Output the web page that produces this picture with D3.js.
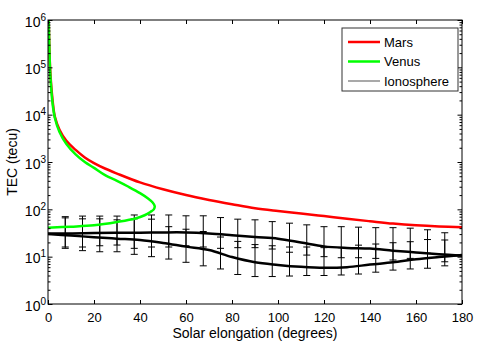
<!DOCTYPE html>
<html>
<head>
<meta charset="utf-8">
<script src="https://cdn.jsdelivr.net/npm/d3@7"></script>
<style>
body { margin: 0; background: #fff; }
text { font-family: "Liberation Sans", Arial, Helvetica, sans-serif; }
</style>
</head>
<body>
<script>
// tick labels
var xTicks = [0, 20, 40, 60, 80, 100, 120, 140, 160, 180];
var yTicks = [1, 10, 100, 1000, 10000, 100000, 1000000];
var yExps = ["0", "1", "2", "3", "4", "5", "6"];

// Mars model curve
var marsElong = [0.3, 0.6, 1, 2, 3, 5, 8, 12, 16, 20, 25, 30, 40, 50, 60, 70, 80, 90, 100, 110, 120, 130, 140, 150, 160, 170, 180];
var marsTec = [1e6, 2.5e5, 8e4, 2e4, 9000, 4800, 2800, 1800, 1250, 950, 720, 570, 370, 265, 200, 158, 128, 105, 92, 82, 72, 63, 56, 50, 46, 43.5, 42];

// Venus model curve (turns back at max elongation)
var venusElong = [0.3, 0.6, 1, 2, 3, 5, 8, 12, 16, 20, 25, 30, 35, 40, 43.5, 45.5, 46.4, 46, 44.5, 42, 38, 30, 20, 10, 0];
var venusTec = [1e6, 2.5e5, 7e4, 1.7e4, 8500, 4300, 2400, 1450, 1000, 750, 520, 400, 300, 220, 170, 140, 117, 100, 88, 75, 64, 54, 46, 43, 41];

// ionosphere curves
var ionoElong = [0, 10, 20, 30, 40, 50, 60, 70, 80, 90, 100, 110, 120, 130, 140, 150, 160, 170, 180];
var ionoUpper = [31, 31, 31.5, 32, 32, 32.5, 32.5, 31, 28.5, 26, 24, 20, 16.5, 15.3, 14.8, 13.4, 12.3, 11.3, 10.5];
var ionoLower = [30, 28, 25.7, 24, 22.5, 19.5, 16.3, 13.8, 9.8, 7.6, 6.7, 6.1, 5.8, 6.0, 6.8, 7.6, 8.8, 9.8, 10.8];

// error bars
var barElong = [7.5, 15, 22.5, 30, 37.5, 45, 52.5, 60, 67.5, 75, 82.5, 90, 97.5, 105, 112.5, 120, 127.5, 135, 142.5, 150, 157.5, 165, 172.5];
var outerHi = [70, 72, 72, 72, 76, 76, 76, 73, 73, 67, 62, 60, 55, 51, 47, 43, 43, 42, 41, 41, 40, 37, 32];
var outerLo = [15, 13.4, 12.7, 12.7, 11.2, 10, 8.9, 7.6, 6.4, 5.5, 4.2, 3.8, 3.8, 3.9, 4.0, 4.0, 4.1, 4.3, 4.7, 5.2, 5.5, 5.7, 6.4];
var innerHi = [66, 63, 63, 60, 63, 62, 43, 38, 34, 26, 21, 18, 17, 16, 16, 15.5, 15.5, 17.5, 18.5, 19.7, 20.7, 23, 22.5];
var innerLo = [16, 16, 17, 17.6, 15, 16, 16, 17, 16, 15, 15.5, 15.5, 14.5, 12.4, 10.8, 10, 9.5, 9.5, 9.2, 8.5, 9.2, 11.8, 7.8];

var legendNames = ["Mars", "Venus", "Ionosphere"];
var legendColors = ["#ff0000", "#00ff00", "#8c8c8c"];

var width = 478;
var height = 344;
var pLeft = 48, pRight = 462, pTop = 20, pBottom = 304;

var svg = d3.select("body").append("svg")
	.attr("width", width)
	.attr("height", height);

var x = d3.scaleLinear().domain([0, 180]).range([pLeft, pRight]);
var y = d3.scaleLog().domain([1, 1e6]).range([pBottom, pTop]);

svg.append("defs").append("clipPath").attr("id", "clip")
	.append("rect")
	.attr("x", pLeft).attr("y", pTop)
	.attr("width", pRight - pLeft).attr("height", pBottom - pTop);

var plot = svg.append("g").attr("clip-path", "url(#clip)");

// error bars
function drawBars(hi, lo) {
	var g = plot.append("g").attr("stroke", "#000").attr("stroke-width", 1);
	barElong.forEach(function(e, i) {
		var cx = x(e);
		g.append("line").attr("x1", cx).attr("x2", cx).attr("y1", y(hi[i])).attr("y2", y(lo[i]));
		g.append("line").attr("x1", cx - 3.5).attr("x2", cx + 3.5).attr("y1", y(hi[i])).attr("y2", y(hi[i]));
		g.append("line").attr("x1", cx - 3.5).attr("x2", cx + 3.5).attr("y1", y(lo[i])).attr("y2", y(lo[i]));
	});
}
drawBars(outerHi, outerLo);
drawBars(innerHi, innerLo);

function curve(xs, ys, color, w) {
	var line = d3.line()
		.x(function(d) { return x(d[0]); })
		.y(function(d) { return y(d[1]); })
		.curve(d3.curveCatmullRom.alpha(0.5));
	plot.append("path")
		.datum(d3.zip(xs, ys))
		.attr("d", line)
		.attr("fill", "none")
		.attr("stroke", color)
		.attr("stroke-width", w)
		.attr("stroke-linejoin", "round");
}

curve(ionoElong, ionoUpper, "#000", 2.5);
curve(ionoElong, ionoLower, "#000", 2.5);
curve(marsElong, marsTec, "#ff0000", 2.5);
curve(venusElong, venusTec, "#00ff00", 2.5);

// axes
var minor = [];
for (var d = 0; d < 6; d++) {
	for (var k = 2; k <= 9; k++) minor.push(k * Math.pow(10, d));
}

function style(g) {
	g.select(".domain").remove();
	g.selectAll("line").attr("stroke", "#000");
	g.selectAll("text").attr("font-size", 13).attr("fill", "#000")
		.attr("font-family", "Liberation Sans, Arial, sans-serif");
}

svg.append("g").attr("transform", "translate(0," + pBottom + ")")
	.call(d3.axisBottom(x).tickValues(xTicks).tickSizeInner(-4).tickSizeOuter(0).tickPadding(9))
	.call(style);
svg.append("g").attr("transform", "translate(0," + pTop + ")")
	.call(d3.axisTop(x).tickValues(xTicks).tickSizeInner(-4).tickSizeOuter(0).tickFormat(""))
	.call(style);

svg.append("g").attr("transform", "translate(" + pLeft + ",0)")
	.call(d3.axisLeft(y).tickValues(minor).tickSizeInner(-2.5).tickSizeOuter(0).tickFormat(""))
	.call(style);
svg.append("g").attr("transform", "translate(" + pRight + ",0)")
	.call(d3.axisRight(y).tickValues(minor).tickSizeInner(-2.5).tickSizeOuter(0).tickFormat(""))
	.call(style);
svg.append("g").attr("transform", "translate(" + pRight + ",0)")
	.call(d3.axisRight(y).tickValues(yTicks).tickSizeInner(-4.5).tickSizeOuter(0).tickFormat(""))
	.call(style);

var yAxis = svg.append("g").attr("transform", "translate(" + pLeft + ",0)")
	.call(d3.axisLeft(y).tickValues(yTicks).tickSizeInner(-4.5).tickSizeOuter(0).tickPadding(9))
	.call(style);
yAxis.selectAll(".tick text").each(function(d, i) {
	var t = d3.select(this).text("").attr("x", -2).attr("dy", "0.45em").attr("font-size", 14);
	t.append("tspan").text("10");
	t.append("tspan").attr("dy", "-0.6em").attr("font-size", 10).text(yExps[i]);
});

svg.append("rect")
	.attr("x", pLeft).attr("y", pTop)
	.attr("width", pRight - pLeft).attr("height", pBottom - pTop)
	.attr("fill", "none").attr("stroke", "#000").attr("stroke-width", 1);

// axis titles
svg.append("text")
	.attr("x", (pLeft + pRight) / 2).attr("y", 338)
	.attr("text-anchor", "middle").attr("font-size", 14)
	.text("Solar elongation (degrees)");
svg.append("text")
	.attr("transform", "translate(17," + ((pTop + pBottom) / 2) + ") rotate(-90)")
	.attr("text-anchor", "middle").attr("font-size", 14)
	.text("TEC (tecu)");

// legend
var lg = svg.append("g");
lg.append("rect")
	.attr("x", 342).attr("y", 28).attr("width", 116).attr("height", 63)
	.attr("fill", "#fff").attr("stroke", "#333").attr("stroke-width", 1);
legendNames.forEach(function(n, i) {
	var yy = 42 + i * 19.5;
	lg.append("line")
		.attr("x1", 348).attr("x2", 380).attr("y1", yy).attr("y2", yy)
		.attr("stroke", legendColors[i]).attr("stroke-width", i < 2 ? 2.5 : 1.5);
	lg.append("text")
		.attr("x", 384).attr("y", yy).attr("dy", "0.35em")
		.attr("font-size", 13)
		.text(n);
});
</script>
</body>
</html>
